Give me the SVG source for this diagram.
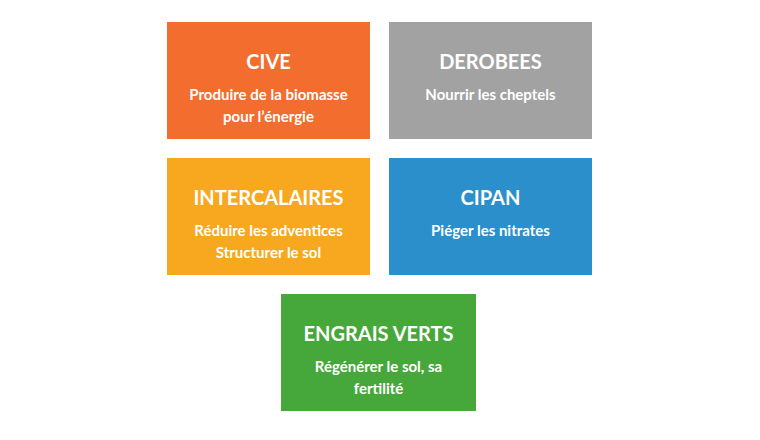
<svg xmlns="http://www.w3.org/2000/svg" width="760" height="440" viewBox="0 0 760 440">
<style>
.t{font-family:Lato,"Open Sans",sans-serif;font-weight:bold;fill:#fff;text-anchor:middle}
.h{font-size:20px}
.s{font-size:15px}
</style>
<rect width="760" height="440" fill="#fff"/>
<g id="cive"><rect x="167" y="22" width="203" height="117" fill="#F26D2E"/>
<text class="t h" x="268.5" y="69">CIVE</text>
<text class="t s" x="268.5" y="100">Produire de la biomasse</text>
<text class="t s" x="268.5" y="122">pour l’énergie</text></g>
<g id="derobees"><rect x="389" y="22" width="203" height="117" fill="#A2A2A2"/>
<text class="t h" x="490.5" y="69">DEROBEES</text>
<text class="t s" x="490.5" y="100">Nourrir les cheptels</text></g>
<g id="intercalaires"><rect x="167" y="158" width="203" height="117" fill="#F7A81F"/>
<text class="t h" x="268.5" y="205">INTERCALAIRES</text>
<text class="t s" x="268.5" y="236">Réduire les adventices</text>
<text class="t s" x="268.5" y="258">Structurer le sol</text></g>
<g id="cipan"><rect x="389" y="158" width="203" height="117" fill="#2A8FCB"/>
<text class="t h" x="490.5" y="205">CIPAN</text>
<text class="t s" x="490.5" y="236">Piéger les nitrates</text></g>
<g id="engrais"><rect x="281" y="294" width="195" height="117" fill="#46A83B"/>
<text class="t h" x="378.5" y="341">ENGRAIS VERTS</text>
<text class="t s" x="378.5" y="372">Régénérer le sol, sa</text>
<text class="t s" x="378.5" y="394">fertilité</text></g>
<g id="connectors"/>
</svg>
